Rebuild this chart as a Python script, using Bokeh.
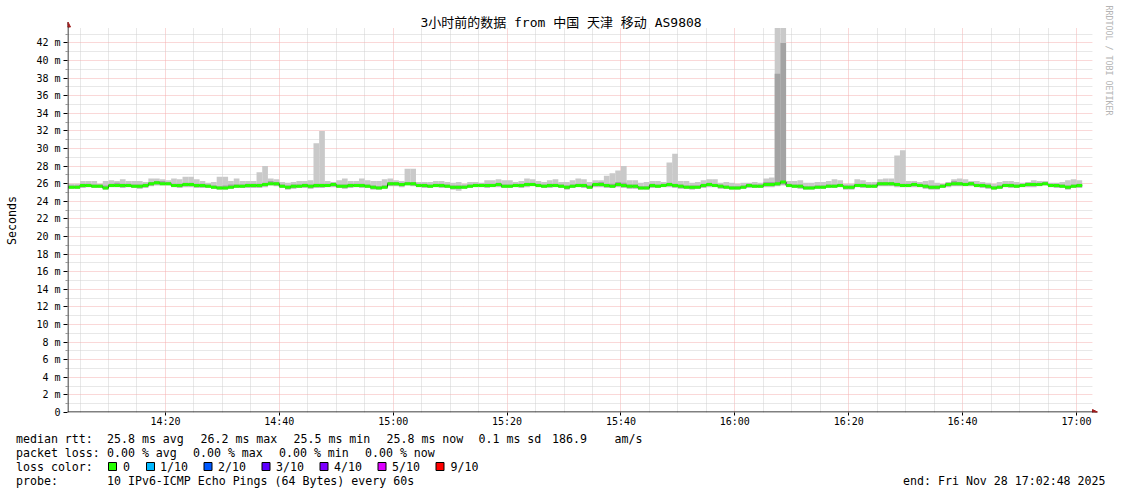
import math
from datetime import datetime, timedelta
from bokeh.plotting import figure
from bokeh.layouts import column
from bokeh.models import (Range1d, FixedTicker, DatetimeTickFormatter, CustomJSTickFormatter,
                          Label, BoxAnnotation, Arrow, NormalHead, ColumnDataSource)
from bokeh.core.properties import value
from bokeh.embed import file_html
from bokeh.resources import INLINE

# ---------------- data ----------------
TITLE = "3小时前的数据 from 中国 天津 移动 AS9808"
START = datetime(2025, 11, 28, 14, 2, 48)
END = datetime(2025, 11, 28, 17, 2, 48)
FIRST_STEP = datetime(2025, 11, 28, 14, 3, 0)
STEP_SECONDS = 60

# median rtt per minute (ms)
median = [
    25.6, 25.6, 25.8, 25.8, 25.7, 25.7, 25.5, 25.8, 25.8, 25.8,
    25.8, 25.7, 25.7, 25.8, 26.0, 26.1, 26.0, 26.0, 25.8, 25.8,
    25.9, 25.9, 25.8, 25.8, 25.7, 25.6, 25.5, 25.5, 25.6, 25.7,
    25.7, 25.8, 25.8, 25.8, 25.9, 26.0, 26.0, 25.7, 25.6, 25.7,
    25.7, 25.8, 25.7, 25.8, 25.8, 25.8, 25.9, 25.7, 25.7, 25.8,
    25.8, 25.8, 25.7, 25.6, 25.5, 25.6, 26.0, 26.0, 25.9, 26.0,
    26.0, 25.8, 25.8, 25.7, 25.8, 25.8, 25.7, 25.6, 25.6, 25.6,
    25.7, 25.8, 25.8, 25.8, 25.8, 25.9, 25.7, 25.7, 25.8, 25.8,
    25.9, 25.9, 25.8, 25.7, 25.8, 25.8, 25.7, 25.6, 25.7, 25.8,
    25.8, 25.6, 25.9, 25.9, 25.8, 25.7, 25.9, 25.8, 25.7, 25.7,
    25.5, 25.5, 25.8, 25.7, 25.8, 25.9, 25.8, 25.7, 25.6, 25.6,
    25.6, 25.8, 25.9, 25.8, 25.7, 25.6, 25.5, 25.5, 25.6, 25.8,
    25.7, 25.7, 25.9, 25.9, 26.0, 26.2, 25.8, 25.7, 25.7, 25.5,
    25.5, 25.6, 25.6, 25.7, 25.7, 25.8, 25.6, 25.6, 25.8, 25.8,
    25.7, 25.7, 26.0, 26.0, 26.0, 25.9, 25.8, 25.8, 25.9, 25.8,
    25.7, 25.6, 25.6, 25.7, 25.9, 26.0, 26.0, 25.9, 26.0, 25.8,
    25.8, 25.7, 25.5, 25.6, 25.8, 25.8, 25.7, 25.8, 25.9, 25.9,
    25.9, 26.0, 25.8, 25.8, 25.7, 25.6, 25.7, 25.8,
]

# smoke: fastest / slowest ping per minute (ms)
smoke_min = [
    25.4, 25.4, 25.5, 25.6, 25.5, 25.5, 25.3, 25.6, 25.6, 25.5,
    25.6, 25.5, 25.4, 25.5, 25.7, 25.8, 25.8, 25.8, 25.6, 25.5,
    25.6, 25.6, 25.5, 25.5, 25.5, 25.4, 25.3, 25.3, 25.4, 25.5,
    25.5, 25.5, 25.5, 25.5, 25.6, 25.8, 25.7, 25.5, 25.3, 25.4,
    25.5, 25.5, 25.4, 25.5, 25.5, 25.6, 25.6, 25.5, 25.4, 25.5,
    25.6, 25.5, 25.5, 25.3, 25.3, 25.4, 25.7, 25.7, 25.6, 25.8,
    25.7, 25.6, 25.5, 25.5, 25.6, 25.5, 25.5, 25.3, 25.2, 25.4,
    25.5, 25.6, 25.6, 25.5, 25.6, 25.6, 25.5, 25.5, 25.6, 25.5,
    25.6, 25.7, 25.6, 25.5, 25.5, 25.6, 25.5, 25.3, 25.5, 25.6,
    25.5, 25.4, 25.6, 25.6, 25.5, 25.5, 25.6, 25.5, 25.4, 25.4,
    25.3, 25.3, 25.5, 25.5, 25.6, 25.6, 25.5, 25.4, 25.4, 25.3,
    25.4, 25.5, 25.6, 25.6, 25.4, 25.4, 25.3, 25.3, 25.4, 25.5,
    25.5, 25.5, 25.6, 25.6, 25.7, 25.8, 25.6, 25.5, 25.4, 25.3,
    25.3, 25.4, 25.4, 25.5, 25.5, 25.6, 25.3, 25.3, 25.6, 25.5,
    25.5, 25.5, 25.7, 25.7, 25.7, 25.6, 25.6, 25.6, 25.6, 25.6,
    25.4, 25.3, 25.3, 25.5, 25.6, 25.7, 25.7, 25.7, 25.7, 25.6,
    25.5, 25.4, 25.3, 25.4, 25.6, 25.5, 25.5, 25.6, 25.6, 25.6,
    25.7, 25.8, 25.6, 25.5, 25.5, 25.3, 25.5, 25.5,
]
smoke_max = [
    26.0, 26.0, 26.3, 26.3, 26.3, 26.0, 26.3, 26.4, 26.3, 26.5,
    26.3, 26.3, 26.3, 26.2, 26.6, 26.6, 26.5, 26.4, 26.6, 26.5,
    26.8, 26.8, 26.5, 26.3, 26.1, 26.2, 26.8, 26.8, 26.3, 26.6,
    26.3, 26.3, 26.3, 27.3, 28.0, 26.6, 26.5, 26.2, 26.1, 26.2,
    26.3, 26.3, 26.4, 30.6, 32.0, 26.3, 26.2, 26.4, 26.6, 26.3,
    26.3, 26.6, 26.4, 26.3, 26.3, 26.5, 26.6, 26.4, 26.3, 27.7,
    27.7, 26.2, 26.2, 26.2, 26.3, 26.3, 26.2, 26.1, 26.2, 26.0,
    26.2, 26.2, 26.1, 26.4, 26.4, 26.5, 26.4, 26.4, 26.2, 26.3,
    26.6, 26.5, 26.3, 26.2, 26.4, 26.5, 26.2, 26.2, 26.4, 26.6,
    26.5, 26.2, 26.4, 26.4, 26.9, 27.2, 27.5, 28.0, 26.4, 26.4,
    26.1, 26.2, 26.3, 26.3, 26.2, 28.4, 29.4, 26.3, 26.3, 26.1,
    26.2, 26.4, 26.5, 26.5, 26.1, 26.2, 26.1, 26.0, 26.1, 26.1,
    26.2, 26.1, 26.6, 26.7, 45.0, 45.0, 26.3, 26.3, 26.4, 26.1,
    26.1, 26.2, 26.2, 26.3, 26.5, 26.4, 26.0, 26.0, 26.5, 26.4,
    26.2, 26.2, 26.5, 26.6, 26.6, 29.2, 29.8, 26.3, 26.3, 26.2,
    26.3, 26.4, 26.1, 26.0, 26.2, 26.5, 26.6, 26.5, 26.3, 26.3,
    26.2, 26.1, 26.0, 26.2, 26.3, 26.3, 26.2, 26.1, 26.2, 26.4,
    26.3, 26.3, 26.1, 26.1, 26.2, 26.4, 26.5, 26.4,
]
# inner smoke: 2nd fastest / 2nd slowest ping per minute (ms)
inner_lo = [
    25.5, 25.5, 25.6, 25.7, 25.6, 25.6, 25.4, 25.7, 25.7, 25.6,
    25.7, 25.6, 25.5, 25.6, 25.8, 25.9, 25.9, 25.9, 25.7, 25.6,
    25.7, 25.7, 25.6, 25.6, 25.6, 25.5, 25.4, 25.4, 25.5, 25.6,
    25.6, 25.6, 25.6, 25.6, 25.7, 25.9, 25.8, 25.6, 25.4, 25.5,
    25.6, 25.6, 25.5, 25.6, 25.6, 25.7, 25.7, 25.6, 25.5, 25.6,
    25.7, 25.6, 25.6, 25.4, 25.4, 25.5, 25.8, 25.8, 25.7, 25.9,
    25.8, 25.7, 25.6, 25.6, 25.7, 25.6, 25.6, 25.4, 25.4, 25.5,
    25.6, 25.7, 25.7, 25.6, 25.7, 25.7, 25.6, 25.6, 25.7, 25.6,
    25.7, 25.8, 25.7, 25.6, 25.6, 25.7, 25.6, 25.4, 25.6, 25.7,
    25.6, 25.5, 25.7, 25.7, 25.6, 25.6, 25.7, 25.6, 25.5, 25.5,
    25.4, 25.4, 25.6, 25.6, 25.7, 25.7, 25.6, 25.5, 25.5, 25.4,
    25.5, 25.6, 25.7, 25.7, 25.5, 25.5, 25.4, 25.4, 25.5, 25.6,
    25.6, 25.6, 25.7, 25.7, 25.8, 25.9, 25.7, 25.6, 25.5, 25.4,
    25.4, 25.5, 25.5, 25.6, 25.6, 25.7, 25.4, 25.4, 25.7, 25.6,
    25.6, 25.6, 25.8, 25.8, 25.8, 25.7, 25.7, 25.7, 25.7, 25.7,
    25.5, 25.4, 25.4, 25.6, 25.7, 25.8, 25.8, 25.8, 25.8, 25.7,
    25.6, 25.5, 25.4, 25.5, 25.7, 25.6, 25.6, 25.7, 25.7, 25.7,
    25.8, 25.9, 25.7, 25.6, 25.6, 25.4, 25.6, 25.6,
]
inner_hi = [
    25.8, 25.8, 26.0, 26.0, 25.9, 25.9, 25.8, 26.0, 26.1, 26.0,
    26.0, 25.9, 25.9, 26.0, 26.2, 26.3, 26.3, 26.2, 26.0, 26.0,
    26.1, 26.1, 26.0, 26.0, 25.9, 25.8, 25.7, 25.8, 25.9, 25.9,
    25.9, 26.0, 26.0, 26.0, 26.1, 26.3, 26.2, 25.9, 25.8, 25.9,
    25.9, 26.0, 25.9, 26.0, 26.0, 26.0, 26.1, 25.9, 25.9, 26.0,
    26.0, 26.0, 25.9, 25.8, 25.7, 25.8, 26.2, 26.2, 26.1, 26.2,
    26.2, 26.0, 26.0, 25.9, 26.0, 26.0, 25.9, 25.8, 25.8, 25.8,
    25.9, 26.0, 26.0, 26.0, 26.0, 26.1, 25.9, 25.9, 26.0, 26.0,
    26.1, 26.1, 26.0, 25.9, 26.0, 26.0, 25.9, 25.8, 25.9, 26.0,
    26.0, 25.8, 26.1, 26.2, 26.0, 26.0, 26.2, 26.1, 25.9, 25.9,
    25.7, 25.7, 26.0, 25.9, 26.0, 26.1, 26.0, 25.9, 25.8, 25.8,
    25.8, 26.0, 26.1, 26.0, 25.9, 25.8, 25.7, 25.7, 25.8, 26.0,
    25.9, 25.9, 26.2, 26.2, 38.5, 42.0, 26.0, 25.9, 25.9, 25.7,
    25.7, 25.8, 25.8, 25.9, 25.9, 26.0, 25.8, 25.8, 26.0, 26.0,
    25.9, 25.9, 26.2, 26.2, 26.2, 26.1, 26.0, 26.0, 26.1, 26.0,
    25.9, 25.8, 25.8, 25.9, 26.1, 26.3, 26.2, 26.1, 26.2, 26.0,
    26.0, 25.9, 25.7, 25.8, 26.0, 26.0, 25.9, 26.0, 26.1, 26.1,
    26.1, 26.2, 26.0, 26.0, 25.9, 25.8, 25.9, 26.0,
]

x_major_labels = ["14:20", "14:40", "15:00", "15:20", "15:40", "16:00", "16:20", "16:40", "17:00"]
y_tick_values = [0, 2, 4, 6, 8, 10, 12, 14, 16, 18, 20, 22, 24, 26, 28, 30, 32, 34, 36, 38, 40, 42]
Y_GRID_TOP = 43.7  # upper limit of the graph area (ms)

legend_rtt = ["median rtt:", "25.8 ms avg", "26.2 ms max", "25.5 ms min", "25.8 ms now",
              "0.1 ms sd", "186.9", "am/s"]
legend_loss = ["packet loss:", "0.00 % avg", "0.00 % max", "0.00 % min", "0.00 % now"]
legend_color_caption = "loss color:"
loss_labels = ["0", "1/10", "2/10", "3/10", "4/10", "5/10", "9/10"]
loss_colors = ["#26ff00", "#00b8ff", "#0059ff", "#5e00ff", "#7e00ff", "#dd00ff", "#ff0000"]
legend_probe = ["probe:", "10 IPv6-ICMP Echo Pings (64 Bytes) every 60s"]
legend_end = "end: Fri Nov 28 17:02:48 2025"
watermark = "RRDTOOL / TOBI OETIKER"
y_axis_title = "Seconds"

# ---------------- layout constants (pixels) ----------------
W, H_MAIN, H_LEG = 1121, 430, 64
FRAME_LEFT, X_AXIS_Y = 67, 412
PX_PER_MS = 8.80
PX_PER_MIN = 5.694
FONT = "DejaVu Sans Mono"
FONT_CJK = "DejaVu Sans Mono, Noto Sans CJK SC"
LEG_SIZE = "11.6px"

EPOCH = datetime(1970, 1, 1)


def ms(dt):
    return (dt - EPOCH).total_seconds() * 1000.0


n = len(median)
lefts = [ms(FIRST_STEP + timedelta(seconds=STEP_SECONDS * i)) for i in range(n)]
rights = [l + STEP_SECONDS * 1000.0 for l in lefts]
MEDIAN_HALF = 0.17  # half thickness of the median band (ms), style constant

src = ColumnDataSource(dict(
    left=lefts, right=rights,
    smin=smoke_min, smax=smoke_max, ilo=inner_lo, ihi=inner_hi,
    mlo=[m - MEDIAN_HALF for m in median],
    mhi=[m + MEDIAN_HALF for m in median],
))

x_view_end = ms(START) + (W - FRAME_LEFT) / PX_PER_MIN * 60000.0
y_view_end = X_AXIS_Y / PX_PER_MS

p = figure(width=W, height=H_MAIN, x_axis_type="datetime", title=None,
           output_backend="svg", toolbar_location=None,
           x_range=Range1d(ms(START), x_view_end), y_range=Range1d(0, y_view_end),
           min_border_left=FRAME_LEFT, min_border_right=0, min_border_top=0,
           min_border_bottom=H_MAIN - X_AXIS_Y)
p.frame_align = False
p.outline_line_color = None
p.background_fill_color = "white"
p.border_fill_color = "white"

# ticks & grid
major_x = []
for lab in x_major_labels:
    h, m = lab.split(":")
    major_x.append(ms(datetime(2025, 11, 28, int(h), int(m))))
minor_x = []
t = datetime(2025, 11, 28, 14, 5)
while t <= END:
    v = ms(t)
    if v not in major_x:
        minor_x.append(v)
    t += timedelta(minutes=5)
minor_y = [v + 1 for v in y_tick_values]

p.xaxis.ticker = FixedTicker(ticks=major_x, minor_ticks=minor_x)
p.yaxis.ticker = FixedTicker(ticks=y_tick_values, minor_ticks=minor_y)
p.xgrid.ticker = p.xaxis.ticker
p.ygrid.ticker = p.yaxis.ticker

for g in (p.xgrid, p.ygrid):
    g.grid_line_color = "#f4b0b0"
    g.grid_line_dash = "1 1"
    g.grid_line_width = 1
    g.minor_grid_line_color = "#d0d0d0"
    g.minor_grid_line_dash = "1 1"
    g.minor_grid_line_width = 1

p.xaxis.formatter = DatetimeTickFormatter(
    seconds="%H:%M", minsec="%H:%M", minutes="%H:%M", hourmin="%H:%M", hours="%H:%M",
    days="%H:%M", months="%H:%M", years="%H:%M")
p.yaxis.formatter = CustomJSTickFormatter(code="return tick == 0 ? '0' : tick + ' m';")

for ax in (p.xaxis, p.yaxis):
    ax.axis_line_color = None
    ax.major_tick_line_color = "#000000"
    ax.minor_tick_line_color = "#999999"
    ax.major_label_text_font = FONT
    ax.major_label_text_font_size = "10px"
    ax.major_label_text_color = "#000000"
    ax.major_tick_in = 0
    ax.minor_tick_in = 0
p.yaxis.major_tick_out = 4
p.yaxis.minor_tick_out = 2
p.yaxis.major_label_standoff = 3
p.xaxis.major_tick_out = 3
p.xaxis.minor_tick_out = 0
p.xaxis.major_label_standoff = 0

p.yaxis.axis_label = y_axis_title + "\u00a0" * 4
p.yaxis.axis_label_text_font = FONT
p.yaxis.axis_label_text_font_size = LEG_SIZE
p.yaxis.axis_label_text_font_style = "normal"
p.yaxis.axis_label_text_color = "#000000"
p.yaxis.axis_label_standoff = 14

# ---------------- smoke + median ----------------
p.quad(left="left", right="right", bottom="smin", top="smax", source=src,
       fill_color="#c9c9c9", line_color=None)
p.quad(left="left", right="right", bottom="ilo", top="ihi", source=src,
       fill_color="#a3a3a3", line_color=None)
p.step(x=lefts + [rights[-1]], y=median + [median[-1]], mode="after",
       line_color="#202020", line_width=1)
p.quad(left="left", right="right", bottom="mlo", top="mhi", source=src,
       fill_color=loss_colors[0], line_color=None)

# white masks outside the rrd graph area (above 43.7 ms, right of the end time)
p.add_layout(BoxAnnotation(bottom=Y_GRID_TOP, fill_color="white", fill_alpha=1.0,
                           line_color=None, line_alpha=0))
p.add_layout(BoxAnnotation(left=ms(END), fill_color="white", fill_alpha=1.0,
                           line_color=None, line_alpha=0))

# ---------------- axis lines with arrows (screen px from frame bottom-left) ----------------
ARROW = "#a01c1c"
p.add_layout(Arrow(x_start=0.5, y_start=0, x_end=0.5, y_end=X_AXIS_Y - 21.5,
                   start_units="screen", end_units="screen",
                   line_color="#000000", line_width=1,
                   end=NormalHead(size=5, fill_color=ARROW, line_color=ARROW)))
p.add_layout(Arrow(x_start=0, y_start=0.5, x_end=1097 - FRAME_LEFT, y_end=0.5,
                   start_units="screen", end_units="screen",
                   line_color="#000000", line_width=1,
                   end=NormalHead(size=5, fill_color=ARROW, line_color=ARROW)))


def label(px, py, s, size, align="left", angle=0.0, color="#000000"):
    p.add_layout(Label(x=px - FRAME_LEFT, y=X_AXIS_Y - py, x_units="screen", y_units="screen",
                       text=s, text_font=FONT_CJK, text_font_size=size,
                       text_align=align, text_baseline="middle", text_color=color,
                       angle=angle))


label(560.5, 21.5, TITLE, "13px", align="center")
label(1108.5, 5, watermark, "8.3px", angle=-math.pi / 2, color="#b4b4b4")

# ---------------- legend strip below the graph ----------------
leg = figure(width=W, height=H_LEG, output_backend="svg", toolbar_location=None, title=None,
             x_range=Range1d(0, W), y_range=Range1d(H_MAIN + H_LEG, H_MAIN),
             x_axis_location=None, y_axis_location=None,
             min_border_left=0, min_border_right=0, min_border_top=0, min_border_bottom=0)
leg.frame_align = False
leg.outline_line_color = None
leg.xgrid.visible = False
leg.ygrid.visible = False
leg.background_fill_color = "white"
leg.border_fill_color = "white"

ROWS = [438, 452, 466, 480]
rtt_x = [15.5, 106.5, 200, 293, 386, 478, 551.5, 614]
loss_x = [15.5, 106.5, 192.5, 278.5, 364.5]
probe_x = [15.5, 106.5]
box_x = [108, 146, 203.5, 261.5, 319.5, 377.5, 435.5]
lab_x = [122.5, 159.5, 217.5, 275.5, 333.5, 391.5, 450]

tx = rtt_x + loss_x + [15.5] + lab_x + probe_x
ty = ([ROWS[0]] * len(rtt_x) + [ROWS[1]] * len(loss_x) + [ROWS[2]] * (1 + len(lab_x))
      + [ROWS[3]] * len(probe_x))
tt = legend_rtt + legend_loss + [legend_color_caption] + loss_labels + legend_probe
leg.text(x=tx, y=ty, text=tt, text_font=value(FONT), text_font_size=value(LEG_SIZE),
         text_align="left", text_baseline="middle", text_color="#000000")
leg.text(x=[1105], y=[ROWS[3]], text=[legend_end], text_font=value(FONT),
         text_font_size=value(LEG_SIZE), text_align="right", text_baseline="middle",
         text_color="#000000")
leg.quad(left=box_x, right=[b + 8 for b in box_x],
         top=[ROWS[2] - 4] * len(box_x), bottom=[ROWS[2] + 4] * len(box_x),
         fill_color=loss_colors, line_color="#000000", line_width=1)

layout = column(p, leg, spacing=0)
open("out.html", "w").write(file_html(layout, INLINE))
